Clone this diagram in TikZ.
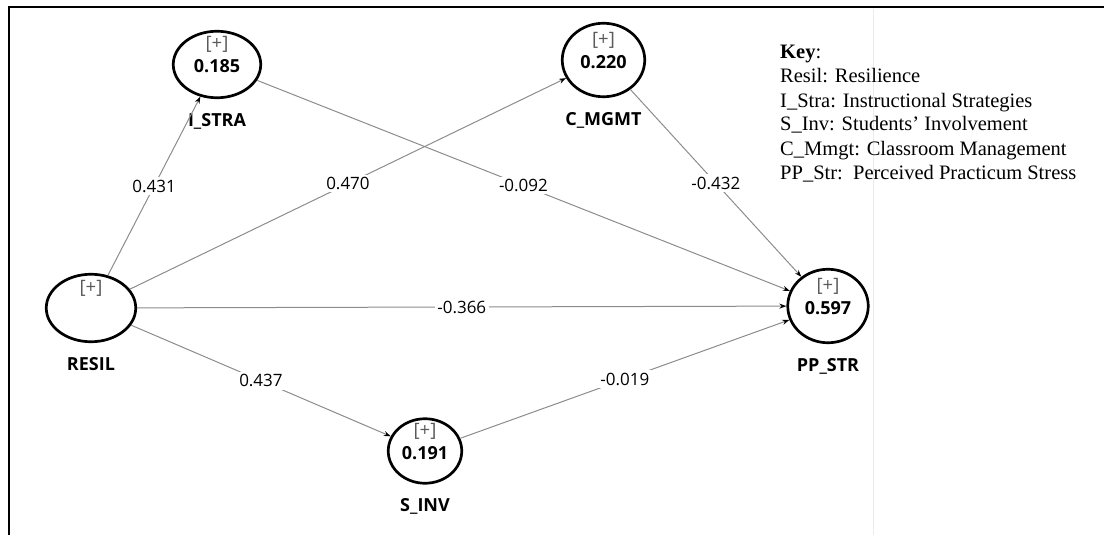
\documentclass[tikz,border=0pt]{standalone}
\usepackage{fontspec}
\setmainfont{Liberation Serif}
\newfontfamily\plsfont{Open Sans}
\definecolor{pathgray}{HTML}{8C8C8C}
\definecolor{plusgray}{HTML}{5A5A5A}
\usetikzlibrary{arrows.meta,calc,shapes.geometric}
\tikzset{
  latent/.style={ellipse,draw,line width=2.7pt,inner sep=0pt},
  plusmark/.style={font=\plsfont\fontsize{18.5}{20}\selectfont,text=plusgray,inner sep=0pt},
  rsq/.style={font=\plsfont\bfseries\fontsize{18}{20}\selectfont,inner sep=0pt},
  lvname/.style={font=\plsfont\bfseries\fontsize{18}{20}\selectfont,inner sep=0pt},
  pathline/.style={draw=pathgray,line width=1pt,-{Stealth[length=7pt,width=5pt,color=black]}},
  coef/.style={fill=white,font=\plsfont\fontsize{17}{18}\selectfont,inner sep=2.5pt},
  keytext/.style={font=\fontsize{20.5}{24}\selectfont,inner sep=0pt,anchor=base west}
}
\begin{document}
\begin{tikzpicture}[x=1pt,y=-1pt]
\useasboundingbox (0,0) rectangle (1104,535);
\draw[line width=2pt] (9,535) -- (9,7) -- (1104,7);
\draw[black!8] (873,9) -- (873,535);
% constructs
\node[latent,minimum width=89.5pt,minimum height=67.5pt] (resil) at (91,308) {};
\node[latent,minimum width=87.5pt,minimum height=66.5pt] (istra) at (217,64.5) {};
\node[latent,minimum width=82.5pt,minimum height=73.5pt] (cmgmt) at (603.5,60) {};
\node[latent,minimum width=73.5pt,minimum height=64.5pt] (sinv) at (425,451) {};
\node[latent,minimum width=80.5pt,minimum height=73.5pt] (ppstr) at (828,306) {};
\foreach \nd/\nm in {resil/RESIL,istra/I\_STRA,cmgmt/C\_MGMT,sinv/S\_INV,ppstr/PP\_STR}{
  \node[plusmark] (\nd-plus) at ($(\nd)+(0,-20)$) {[+]};
  \node[lvname,anchor=base] (\nd-name) at ($(\nd.south)+(0,27)$) {\nm};}
\foreach \nd/\val in {istra/0.185,cmgmt/0.220,sinv/0.191,ppstr/0.597}
  \node[rsq] (\nd-r2) at ($(\nd)+(0,2)$) {\val};
% paths
\foreach \src/\dst/\w in {resil/istra/0.431,resil/cmgmt/0.470,resil/ppstr/-0.366,resil/sinv/0.437,istra/ppstr/-0.092,cmgmt/ppstr/-0.432,sinv/ppstr/-0.019}
  \draw[pathline] (\src) -- node[coef] (\src-\dst) {\w} (\dst);
% key
\node[keytext] (key) at (780,59) {\textbf{Key}:};
\foreach \ln [count=\i] in {Resil: Resilience,I\_Stra: Instructional Strategies,S\_Inv: Students’ Involvement,C\_Mmgt: Classroom Management,PP\_Str:\ \ Perceived Practicum Stress}
  \node[keytext] (key-\i) at (780,{59+24*\i}) {\ln};
\end{tikzpicture}
\end{document}
